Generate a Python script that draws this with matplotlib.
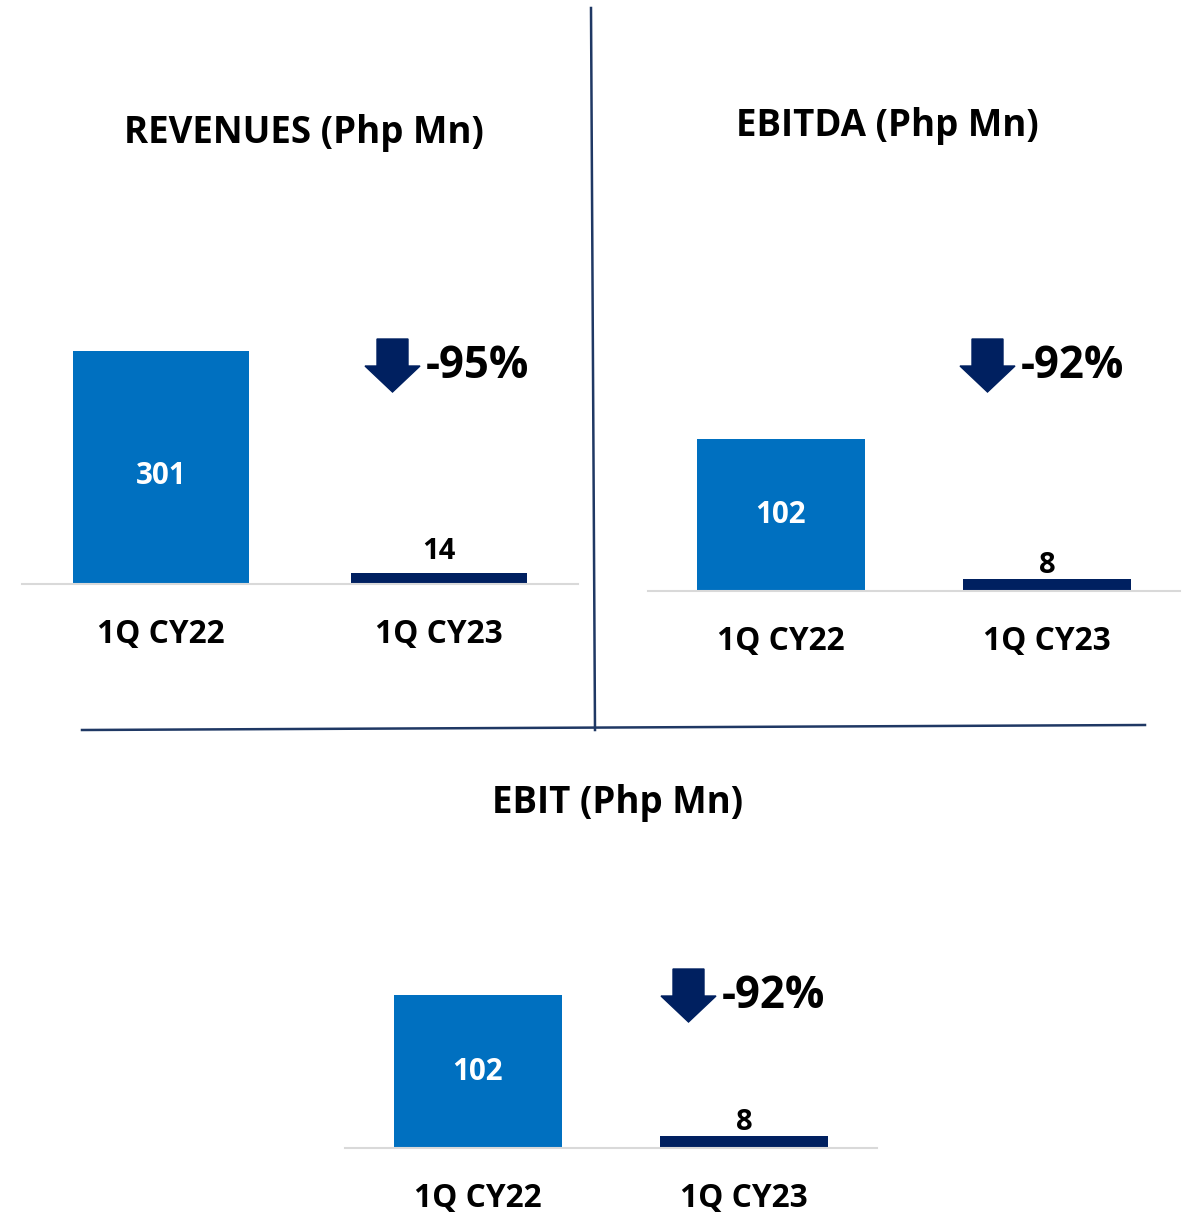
import matplotlib
matplotlib.use("Agg")
import matplotlib.pyplot as plt
from matplotlib.patches import Polygon
from matplotlib.lines import Line2D

plt.rcParams['font.family'] = ['Open Sans', 'DejaVu Sans']

W, H = 1191, 1215
DPI = 100

categories = ["1Q CY22", "1Q CY23"]
titles = ["REVENUES (Php Mn)", "EBITDA (Php Mn)", "EBIT (Php Mn)"]
revenues = [301, 14]
ebitda = [102, 8]
ebit = [102, 8]
changes = ["-95%", "-92%", "-92%"]

BLUE = "#0070C0"
NAVY = "#002060"
LINE = "#1F3864"
GRID = "#D9D9D9"

fig = plt.figure(figsize=(W / DPI, H / DPI), dpi=DPI)


def px_axes(x0, x1, y_top, y_base):
    return fig.add_axes([x0 / W, 1 - y_base / H, (x1 - x0) / W, (y_base - y_top) / H])


def fig_xy(x, y):
    return (x / W, 1 - y / H)


def draw_panel(values, x0, x1, y_base, scale, title, title_xy, change, arrow_xy,
               small_off, big_off):
    y_top = 250
    ax = px_axes(x0, x1, y_base - y_top, y_base)
    ax.set_xlim(-0.5, 1.5)
    ax.set_ylim(0, y_top / scale)
    ax.bar([0, 1], values, width=0.63, color=[BLUE, NAVY])
    for s in ["top", "right", "left"]:
        ax.spines[s].set_visible(False)
    ax.spines["bottom"].set_color(GRID)
    ax.spines["bottom"].set_linewidth(1.5)
    ax.set_yticks([])
    ax.set_xticks([0, 1])
    ax.set_xticklabels(categories, fontsize=22.8, fontweight="bold")
    ax.tick_params(axis="x", length=0, pad=24.5)
    ax.patch.set_alpha(0)
    # value labels
    ax.annotate(str(values[0]), xy=(0, values[0] / 2), xytext=(0, big_off),
                textcoords="offset points", ha="center", va="center",
                color="white", fontsize=21.3, fontweight="bold")
    ax.annotate(str(values[1]), xy=(1, values[1]), xytext=(0, small_off),
                textcoords="offset points", ha="center", va="bottom",
                fontsize=21, fontweight="bold", color="black")
    # title
    fig.text(*fig_xy(*title_xy), title, ha="center", va="center",
             fontsize=26.4, fontweight="bold", color="black")
    # arrow
    ax_, ay = arrow_xy  # top-left of arrow
    pts = [(ax_ + 12, ay), (ax_ + 43, ay), (ax_ + 43, ay + 27), (ax_ + 55, ay + 27),
           (ax_ + 27.5, ay + 53), (ax_, ay + 27), (ax_ + 12, ay + 27)]
    fig.patches.append(Polygon([fig_xy(x, y) for x, y in pts], closed=True,
                               transform=fig.transFigure, facecolor=NAVY,
                               edgecolor=NAVY, figure=fig))
    fig.text(*fig_xy(ax_ + 61, ay + 28), change, ha="left", va="center",
             fontsize=31.5, fontweight="bold", color="black")
    return ax


draw_panel(revenues, 22, 578, 584, 233 / 301, titles[0], (304, 133), changes[0], (365, 339), 5, -6)
draw_panel(ebitda, 648, 1180, 591, 152 / 102, titles[1], (887, 126), changes[1], (960, 339), -1, 0)
draw_panel(ebit, 345, 877, 1148, 153 / 102, titles[2], (618, 803), changes[2], (661, 969), -1, 0)

# divider lines
for (xa, ya), (xb, yb) in [((591, 8), (595, 730)), ((82, 730), (1145, 725))]:
    p0, p1 = fig_xy(xa, ya), fig_xy(xb, yb)
    fig.lines.append(Line2D([p0[0], p1[0]], [p0[1], p1[1]], transform=fig.transFigure,
                            color=LINE, linewidth=1.8, figure=fig))

fig.savefig("out.png", dpi=DPI)
